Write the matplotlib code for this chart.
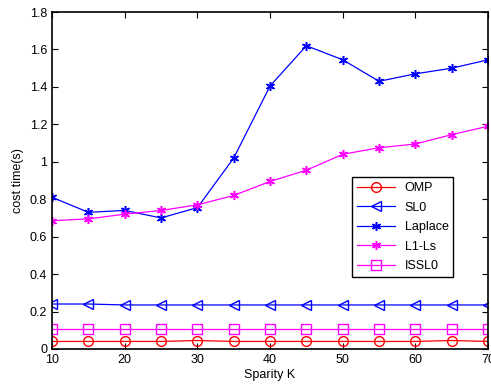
import matplotlib.pyplot as plt

plt.rcParams['font.family'] = ['Liberation Sans', 'DejaVu Sans']

k = [10, 15, 20, 25, 30, 35, 40, 45, 50, 55, 60, 65, 70]
omp = [0.040, 0.040, 0.040, 0.040, 0.045, 0.040, 0.040, 0.040, 0.040, 0.040, 0.040, 0.045, 0.040]
sl0 = [0.240, 0.240, 0.235, 0.235, 0.235, 0.235, 0.235, 0.235, 0.235, 0.235, 0.235, 0.235, 0.235]
laplace = [0.81, 0.73, 0.74, 0.70, 0.755, 1.02, 1.405, 1.62, 1.545, 1.43, 1.47, 1.50, 1.545]
l1ls = [0.685, 0.695, 0.72, 0.74, 0.77, 0.82, 0.895, 0.955, 1.04, 1.075, 1.095, 1.145, 1.19]
issl0 = [0.105] * 13

# MATLAB-like asterisk marker
ast = (6, 2, 0)

fig = plt.figure(figsize=(4.91, 3.89), dpi=100)
ax = fig.add_axes([0.106, 0.103, 0.888, 0.866])

ax.plot(k, omp, color='red', marker='o', mfc='none', ms=7, lw=0.9, label='OMP')
ax.plot(k, sl0, color='blue', marker='<', mfc='none', ms=7, lw=0.9, label='SL0')
ax.plot(k, laplace, color='blue', marker=ast, ms=6.5, mew=1.1, lw=0.9, label='Laplace')
ax.plot(k, l1ls, color='magenta', marker=ast, ms=6.5, mew=1.1, lw=0.9, label='L1-Ls')
ax.plot(k, issl0, color='magenta', marker='s', mfc='none', ms=7, lw=0.9, label='ISSL0')

ax.set_xlim(10, 70)
ax.set_ylim(0, 1.8)
ax.set_xticks(range(10, 71, 10))
ax.set_yticks([0, 0.2, 0.4, 0.6, 0.8, 1, 1.2, 1.4, 1.6, 1.8])
ax.set_yticklabels(['0', '0.2', '0.4', '0.6', '0.8', '1', '1.2', '1.4', '1.6', '1.8'])
ax.tick_params(direction='in', top=True, right=True, labelsize=9, length=4)
ax.set_xlabel('Sparity K', fontsize=9, labelpad=2)
ax.set_ylabel('cost time(s)', fontsize=9)
for s in ax.spines.values():
    s.set_linewidth(1.2)

leg = ax.legend(loc='upper left', bbox_to_anchor=(0.688, 0.51), fontsize=9,
                fancybox=False, framealpha=1, edgecolor='black', borderaxespad=0,
                handlelength=3, labelspacing=0.6)
leg.get_frame().set_linewidth(1.0)

fig.savefig('out.png', dpi=100)
